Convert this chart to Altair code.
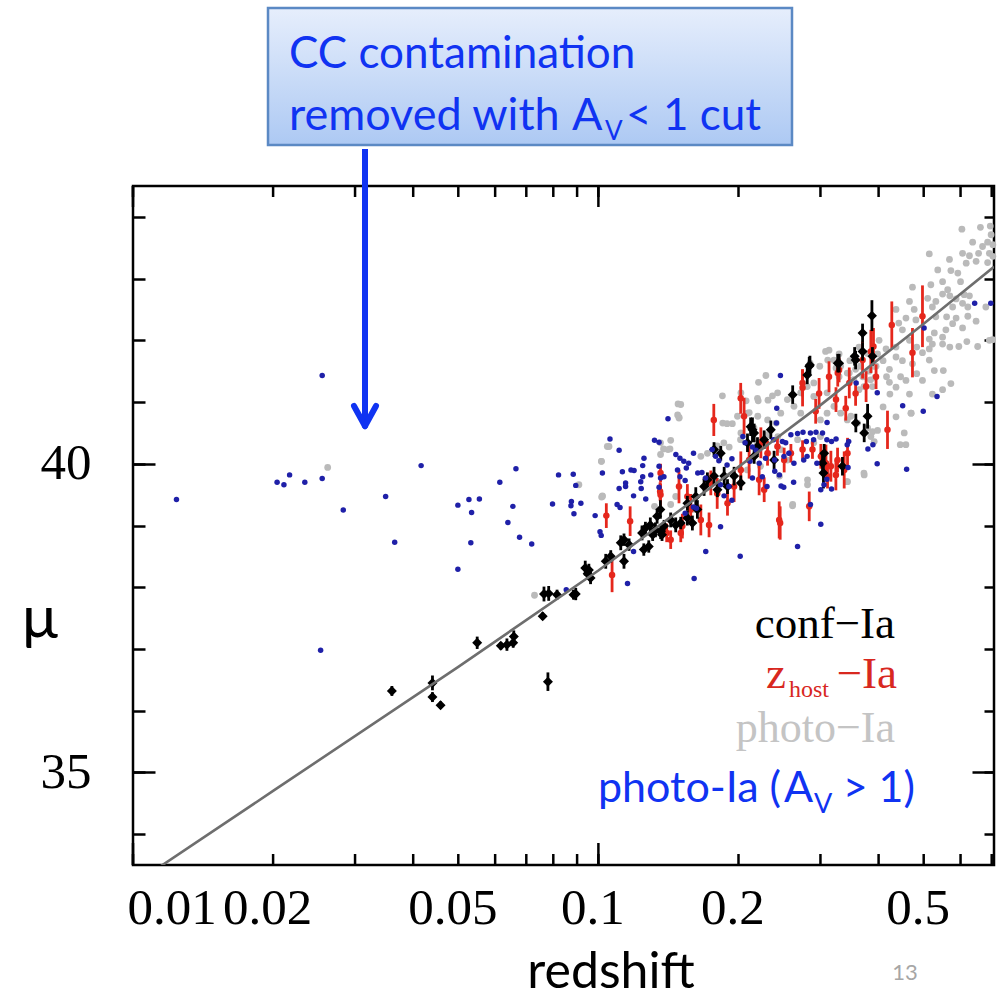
import altair as alt
import pandas as pd

# ---------------------------------------------------------------- data
# photometric Ia candidates (grey), (redshift, distance modulus)
gray_points = [
    (0.604, 43.80), (0.662, 43.83), (0.695, 43.85), (0.698, 43.71), (0.686, 43.59),
    (0.704, 43.55), (0.669, 43.52), (0.637, 43.59), (0.656, 43.41), (0.692, 43.41),
    (0.627, 43.37), (0.648, 43.28), (0.686, 43.26), (0.704, 43.36), (0.606, 43.41),
    (0.617, 43.25), (0.568, 43.31), (0.536, 43.14), (0.514, 43.40), (0.572, 43.13),
    (0.592, 43.09), (0.549, 42.95), (0.600, 42.95), (0.518, 42.90), (0.473, 42.86),
    (0.563, 42.82), (0.549, 42.75), (0.569, 42.72), (0.587, 42.67), (0.611, 42.74),
    (0.627, 42.72), (0.680, 42.54), (0.622, 42.54), (0.606, 42.60), (0.577, 42.54),
    (0.531, 42.63), (0.510, 42.68), (0.466, 42.63), (0.436, 42.50), (0.477, 42.50),
    (0.458, 42.36), (0.442, 42.28), (0.450, 42.17), (0.481, 42.33), (0.522, 42.54),
    (0.531, 42.38), (0.560, 42.38), (0.587, 42.36), (0.622, 42.39), (0.648, 42.31),
    (0.606, 42.20), (0.577, 42.27), (0.558, 42.17), (0.549, 42.05), (0.527, 42.12),
    (0.514, 42.02), (0.522, 41.94), (0.549, 41.94), (0.569, 41.89), (0.595, 41.90),
    (0.619, 41.98), (0.653, 41.90), (0.692, 42.00), (0.703, 42.01), (0.514, 41.86),
    (0.497, 41.80), (0.483, 41.89), (0.466, 42.00), (0.436, 41.89), (0.436, 41.73),
    (0.450, 41.67), (0.473, 41.62), (0.483, 41.46), (0.514, 41.68), (0.527, 41.51),
    (0.497, 41.35), (0.551, 41.51), (0.572, 41.30), (0.549, 41.20), (0.522, 41.13),
    (0.466, 41.13), (0.436, 41.24), (0.422, 41.32), (0.446, 41.41), (0.422, 41.53),
    (0.409, 41.67), (0.415, 41.86), (0.401, 42.00), (0.398, 41.78), (0.393, 41.40),
    (0.416, 41.41), (0.458, 41.35), (0.470, 40.82), (0.436, 40.76), (0.409, 40.92),
    (0.423, 41.13), (0.313, 41.84), (0.329, 41.78), (0.347, 41.67), (0.363, 41.89),
    (0.311, 41.68), (0.299, 41.58), (0.285, 41.63), (0.324, 41.55), (0.346, 41.47),
    (0.357, 41.53), (0.329, 41.41), (0.352, 41.36), (0.370, 41.41), (0.382, 41.50),
    (0.395, 41.58), (0.388, 41.25), (0.363, 41.20),
    (0.149, 40.74), (0.185, 40.66), (0.189, 40.65), (0.194, 40.65), (0.209, 40.82),
    (0.220, 40.77), (0.231, 40.71), (0.241, 40.66), (0.216, 40.58), (0.1045, 40.28),
    (0.1015, 40.04), (0.143, 40.38), (0.138, 40.24), (0.1425, 40.24), (0.136, 40.15),
    (0.166, 40.12), (0.1715, 40.17), (0.180, 40.29), (0.186, 40.34), (0.191, 40.27),
    (0.202, 40.39), (0.199, 40.77), (0.1016, 39.46), (0.0908, 39.66), (0.132, 39.31),
    (0.143, 39.34), (0.1466, 39.47), (0.1606, 39.26), (0.209, 39.90), (0.223, 39.96),
    (0.235, 40.55), (0.243, 40.44), (0.245, 39.80),
    (0.229, 41.43), (0.2208, 41.32), (0.1483, 40.97), (0.1847, 41.10), (0.2077, 41.02),
    (0.2205, 41.02), (0.2366, 41.10), (0.1491, 40.75), (0.2109, 40.83),
    (0.4694, 40.82), (0.3788, 40.58), (0.3882, 40.52), (0.3980, 40.54), (0.3850, 40.44),
    (0.3914, 40.36), (0.4541, 40.50), (0.4578, 40.31), (0.4452, 40.31), (0.3725, 39.82),
    (0.2814, 39.74), (0.2814, 39.66), (0.2613, 39.32), (0.3430, 39.71), (0.3604, 40.66),
    (0.3487, 40.77),
    (0.1503, 40.96), (0.148, 40.79), (0.0262, 39.94), (0.0729, 37.87), (0.102, 39.48),
    (0.2615, 39.34),
    (0.2024, 41.15), (0.2197, 41.06), (0.2314, 41.03), (0.2427, 41.15), (0.2547, 41.04),
    (0.2721, 41.15), (0.2810, 41.25), (0.2903, 41.31), (0.3077, 41.82), (0.3207, 41.68),
    (0.3315, 41.58), (0.3426, 41.47), (0.3538, 41.68), (0.3656, 41.58), (0.3780, 41.79),
    (0.2197, 40.34), (0.2314, 40.17), (0.2465, 40.23), (0.2679, 40.39), (0.2903, 40.34),
    (0.3000, 40.71), (0.3100, 40.82), (0.3207, 40.93), (0.3315, 40.82), (0.3426, 40.71),
    (0.2721, 40.82), (0.2632, 40.93), (0.2903, 41.09), (0.3100, 41.15), (0.3538, 41.36),
    (0.3720, 41.25), (0.3845, 41.36), (0.3900, 41.58), (0.3720, 39.85), (0.3415, 39.71),
    (0.3000, 40.44), (0.2314, 40.47), (0.2547, 40.06), (0.2024, 40.50), (0.2465, 40.82),
    (0.1360, 40.34), (0.1411, 40.23), (0.1054, 40.28), (0.1015, 40.04), (0.1020, 39.47),
]

# host-galaxy redshift Ia (red): (redshift, mu, mu error)
zhost_points = [
    (0.497, 42.39, 0.50), (0.473, 41.80, 0.40), (0.427, 42.25, 0.38), (0.390, 41.90, 0.30),
    (0.2746, 41.23, 0.30), (0.298, 41.14, 0.25), (0.313, 41.41, 0.25), (0.329, 41.52, 0.20),
    (0.346, 41.31, 0.25), (0.3695, 41.68, 0.30), (0.385, 41.82, 0.35), (0.357, 41.14, 0.20),
    (0.324, 41.04, 0.20), (0.376, 41.25, 0.25), (0.395, 41.41, 0.20), (0.340, 40.90, 0.20),
    (0.293, 40.85, 0.20), (0.3268, 41.47, 0.22), (0.2745, 41.31, 0.22), (0.2022, 41.06, 0.25),
    (0.177, 40.71, 0.26), (0.104, 39.16, 0.20), (0.117, 39.07, 0.24), (0.107, 38.20, 0.28),
    (0.136, 39.50, 0.18), (0.143, 38.77, 0.15), (0.149, 39.63, 0.27), (0.1553, 39.47, 0.20),
    (0.1579, 39.26, 0.25), (0.1515, 38.99, 0.20), (0.166, 39.09, 0.25), (0.1729, 39.01, 0.20),
    (0.180, 39.52, 0.25), (0.1744, 39.69, 0.20), (0.1894, 39.36, 0.20), (0.1957, 39.63, 0.25),
    (0.2023, 39.90, 0.30), (0.2108, 40.06, 0.30), (0.2215, 39.74, 0.25), (0.2271, 39.58, 0.20),
    (0.2056, 40.77, 0.30), (0.2234, 40.34, 0.25), (0.2309, 40.17, 0.20), (0.2446, 39.09, 0.30),
    (0.136, 39.85, 0.15), (0.2458, 39.04, 0.27), (0.2838, 39.31, 0.24), (0.418, 40.55, 0.31),
    (0.343, 40.17, 0.25), (0.3265, 40.06, 0.20), (0.3159, 39.96, 0.25), (0.3083, 40.01, 0.30),
    (0.3006, 40.12, 0.20), (0.2884, 40.23, 0.15), (0.2746, 40.23, 0.15), (0.2592, 40.17, 0.15),
    (0.2507, 40.06, 0.20), (0.3374, 39.90, 0.30), (0.3238, 39.82, 0.25), (0.3107, 39.80, 0.20),
    (0.2425, 40.28, 0.15), (0.1402, 38.88, 0.15), (0.1503, 38.88, 0.15), (0.1357, 39.55, 0.15),
]

# spectroscopically confirmed Ia (black): (redshift, mu, mu error)
conf_points = [
    (0.0360, 36.32, 0.08), (0.0440, 36.45, 0.12), (0.0440, 36.22, 0.08), (0.0458, 36.09, 0.06),
    (0.0549, 37.10, 0.10), (0.0617, 37.05, 0.06), (0.0636, 37.07, 0.10), (0.0656, 37.10, 0.08),
    (0.0658, 37.20, 0.10), (0.0779, 36.47, 0.15), (0.0759, 37.53, 0.06), (0.0764, 37.89, 0.12),
    (0.0782, 37.90, 0.12), (0.0815, 37.88, 0.08), (0.0884, 37.88, 0.08), (0.0894, 37.89, 0.10),
    (0.0937, 38.31, 0.12), (0.0948, 38.22, 0.10),
    (0.0954, 38.28, 0.10), (0.0962, 38.15, 0.10), (0.1037, 38.42, 0.12), (0.1063, 38.50, 0.10),
    (0.1117, 38.72, 0.12), (0.1135, 38.77, 0.10), (0.1164, 38.69, 0.10), (0.1135, 38.42, 0.12),
    (0.1241, 38.88, 0.12), (0.1262, 38.96, 0.10), (0.1293, 39.01, 0.12), (0.1308, 38.85, 0.10),
    (0.1326, 38.93, 0.12), (0.1370, 38.85, 0.10), (0.1361, 38.90, 0.12), (0.1384, 38.99, 0.10),
    (0.1337, 39.15, 0.12), (0.1359, 39.26, 0.15), (0.1252, 38.61, 0.10), (0.1283, 38.66, 0.10),
    (0.1430, 39.09, 0.12), (0.1466, 39.01, 0.12), (0.1503, 39.04, 0.10), (0.1553, 39.12, 0.12),
    (0.1592, 39.04, 0.12), (0.1632, 39.26, 0.15), (0.1553, 39.36, 0.12), (0.1619, 39.47, 0.15),
    (0.1687, 39.63, 0.15), (0.1715, 39.74, 0.12), (0.1772, 39.80, 0.15), (0.1802, 39.58, 0.12),
    (0.1863, 39.80, 0.15), (0.1894, 39.63, 0.12), (0.1957, 39.80, 0.15), (0.2023, 39.69, 0.12),
    (0.2091, 40.34, 0.15), (0.2143, 40.55, 0.20), (0.2197, 40.28, 0.15), (0.2271, 40.39, 0.15),
    (0.2385, 40.06, 0.15), (0.2161, 40.12, 0.12), (0.2347, 40.55, 0.15), (0.3056, 40.17, 0.15),
    (0.3031, 40.01, 0.15), (0.3045, 39.85, 0.25), (0.3345, 39.96, 0.15), (0.3725, 40.50, 0.15),
    (0.3788, 40.77, 0.20), (0.3574, 40.66, 0.15), (0.387, 42.40, 0.25), (0.3695, 42.12, 0.15),
    (0.3695, 41.82, 0.15), (0.388, 41.74, 0.15), (0.2838, 41.58, 0.15), (0.329, 41.63, 0.15),
    (0.281, 41.44, 0.15), (0.357, 41.68, 0.15), (0.2615, 41.12, 0.15), (0.3553, 41.74, 0.15),
    (0.3268, 41.63, 0.15), (0.2848, 41.60, 0.15), (0.2161, 40.50, 0.15), (0.2124, 40.60, 0.15),
    (0.1832, 40.17, 0.12), (0.1772, 40.23, 0.12),
]

# photometric candidates with A_V > 1 (blue)
highav_points = [
    (0.0124, 39.42), (0.0255, 41.43), (0.0204, 39.70), (0.0211, 39.66), (0.0217, 39.82),
    (0.0234, 39.70), (0.0255, 39.76), (0.0253, 36.98), (0.0283, 39.25), (0.0349, 39.47),
    (0.0365, 38.73), (0.0416, 39.97), (0.0499, 39.33), (0.0499, 38.29), (0.0527, 39.42),
    (0.0555, 39.43), (0.0534, 39.21), (0.0532, 38.72), (0.0614, 39.70), (0.0665, 39.92),
    (0.0655, 39.31), (0.0639, 39.05), (0.0677, 38.81), (0.0719, 38.70), (0.0797, 39.35),
    (0.0821, 39.82), (0.0883, 39.83), (0.0875, 39.39), (0.0873, 39.32), (0.0894, 39.65),
    (0.0917, 39.36), (0.0886, 39.19), (0.0984, 39.16), (0.0853, 37.96),
    (0.1411, 40.73), (0.1059, 40.40), (0.1108, 40.22), (0.132, 40.38), (0.135, 40.35),
    (0.1020, 39.85), (0.1126, 39.87), (0.1175, 39.90), (0.1193, 39.89), (0.1253, 40.09),
    (0.1245, 39.97), (0.1296, 39.82), (0.1245, 39.79), (0.1233, 39.71), (0.1144, 39.69),
    (0.1144, 39.63), (0.1108, 39.60), (0.135, 39.96), (0.136, 39.77), (0.1383, 39.79),
    (0.135, 39.62), (0.1236, 39.60), (0.1190, 39.48), (0.1264, 39.43), (0.1097, 39.34),
    (0.1113, 39.29), (0.1008, 38.90), (0.1014, 38.84), (0.1190, 38.58), (0.1155, 38.06),
    (0.1467, 40.15), (0.1497, 40.09), (0.1526, 40.04), (0.1563, 40.01), (0.1545, 39.93),
    (0.1601, 40.17), (0.1635, 39.85), (0.1669, 39.86), (0.1700, 39.77), (0.1497, 39.79),
    (0.1479, 39.90), (0.1536, 39.73), (0.1624, 39.28), (0.1600, 39.30), (0.1536, 39.20),
    (0.1756, 40.23), (0.1786, 40.12), (0.1815, 40.05), (0.1890, 39.98), (0.1936, 40.08),
    (0.1830, 39.66), (0.1907, 39.63), (0.1862, 39.48), (0.1936, 39.41), (0.1830, 38.98),
    (0.1701, 38.58), (0.2017, 38.50), (0.1606, 38.14), (0.2044, 40.44), (0.2066, 40.34),
    (0.2143, 40.27), (0.2182, 40.22), (0.2117, 40.04), (0.2216, 40.01), (0.2286, 40.09),
    (0.2143, 39.77), (0.2250, 39.79), (0.2303, 39.63), (0.2413, 40.66), (0.2378, 40.39),
    (0.4989, 40.85), (0.2592, 40.47), (0.2679, 40.49), (0.2752, 40.51), (0.2855, 40.50),
    (0.2935, 40.51), (0.2526, 40.34), (0.2485, 40.36), (0.2798, 40.36), (0.2900, 40.39),
    (0.3031, 40.50), (0.3097, 40.39), (0.3169, 40.36), (0.3241, 40.40), (0.310, 40.67),
    (0.3450, 40.36), (0.3425, 40.31), (0.3794, 40.24), (0.3889, 40.31), (0.3972, 40.00),
    (0.4595, 39.91), (0.2391, 40.06), (0.2504, 40.12), (0.2566, 40.17), (0.2631, 40.01),
    (0.2762, 40.06), (0.2808, 40.12), (0.2948, 40.01), (0.2393, 39.88), (0.2448, 39.82),
    (0.2469, 39.64), (0.2502, 39.62), (0.2627, 39.70), (0.3005, 39.58), (0.3053, 39.66),
    (0.3169, 39.59), (0.3097, 39.75), (0.3439, 39.94), (0.2855, 39.34), (0.3005, 39.02),
    (0.2679, 38.66), (0.6434, 42.60), (0.6968, 42.60), (0.5341, 41.09), (0.4506, 40.94),
    (0.2461, 41.43), (0.3974, 41.15), (0.358, 41.31), (0.2417, 40.90), (0.501, 42.20),
]

# reference cosmology curve
model_z = [0.01, 0.02, 0.05, 0.1, 0.2, 0.3, 0.5, 0.708]
model_mu = [33.18, 34.70, 36.71, 38.27, 39.95, 40.95, 42.27, 43.19]

x_tick_values = [0.01, 0.02, 0.03, 0.04, 0.05, 0.06, 0.07, 0.08, 0.09,
                 0.1, 0.2, 0.3, 0.4, 0.5, 0.6, 0.7]
x_major = [0.01, 0.1]
x_label_values = [0.01, 0.02, 0.05, 0.1, 0.2, 0.5]
y_tick_values = list(range(34, 45))
y_major = [35, 40]

# ---------------------------------------------------------------- frames
gray_df = pd.DataFrame(gray_points, columns=["z", "mu"])
blue_df = pd.DataFrame(highav_points, columns=["z", "mu"])
red_df = pd.DataFrame(zhost_points, columns=["z", "mu", "err"])
black_df = pd.DataFrame(conf_points, columns=["z", "mu", "err"])
for df in (red_df, black_df):
    df["lo"] = df["mu"] - df["err"]
    df["hi"] = df["mu"] + df["err"]
model_df = pd.DataFrame({"z": model_z, "mu": model_mu})
xtick_df = pd.DataFrame({"z": x_tick_values})
xmajor_df = pd.DataFrame({"z": x_major})
one = pd.DataFrame({"k": [0]})

# ---------------------------------------------------------------- styling
W, H = 861, 679
SERIF = "Liberation Serif"
SANS = "Lato"
BLUE_TXT = "#1033f2"
C_GRAY = "#bababa"
C_RED = "#e5271c"
C_BLUE = "#1f20a8"

x_scale = alt.Scale(type="log", domain=[0.01, 0.708], nice=False)
y_scale = alt.Scale(domain=[33.5, 44.5], nice=False, zero=False)


def tick_axis(orient, values, size, offset):
    return alt.Axis(orient=orient, offset=offset, values=values, labels=False,
                    ticks=True, tickSize=size, tickWidth=2.5, tickColor="black",
                    domain=False, grid=False, title=None)


x_label_axis = alt.Axis(orient="bottom", values=x_label_values, format="~g",
                        ticks=False, tickSize=0, domain=False, grid=False,
                        labelFont=SERIF, labelFontSize=51, labelColor="black",
                        labelPadding=58, labelBaseline="alphabetic",
                        labelFlush=True, labelOffset=-6, labelOverlap=False,
                        title=None)
y_label_axis = alt.Axis(orient="left", values=y_major, ticks=False, tickSize=0,
                        domain=False, grid=False, labelFont=SERIF,
                        labelFontSize=51, labelColor="black", labelPadding=42,
                        labelAlign="right", labelBaseline="middle", title=None)


def xy(xaxis, yaxis, y="mu"):
    return dict(
        x=alt.X("z:Q", scale=x_scale, axis=xaxis),
        y=alt.Y(f"{y}:Q", scale=y_scale, axis=yaxis),
    )


# inward ticks along the bottom and top frame edges
def xticks(df, y_from, y_to):
    return alt.Chart(df).mark_rule(color="black", strokeWidth=2.5).encode(
        x=alt.X("z:Q", scale=x_scale, axis=None),
        y=alt.value(y_from), y2=alt.value(y_to))


frame_ticks = [
    xticks(xtick_df, H, H - 11),
    xticks(xtick_df, 0, 11),
    xticks(xmajor_df, H, H - 22),
    xticks(xmajor_df, 0, 21),
]

gray_layer = alt.Chart(gray_df).mark_circle(size=46, color=C_GRAY, opacity=1).encode(
    **xy(x_label_axis, y_label_axis))

red_bars = alt.Chart(red_df).mark_rule(color=C_RED, strokeWidth=2.8).encode(
    **xy(None, tick_axis("right", y_tick_values, 12, -W), y="lo"),
    y2="hi:Q")
red_dots = alt.Chart(red_df).mark_circle(size=42, color=C_RED, opacity=1).encode(
    **xy(None, tick_axis("left", y_tick_values, 10, -W)))

black_bars = alt.Chart(black_df).mark_rule(color="black", strokeWidth=2.8).encode(
    **xy(None, tick_axis("right", y_major, 22, -W), y="lo"),
    y2="hi:Q")
black_dots = alt.Chart(black_df).mark_point(shape="diamond", filled=True, size=100,
                                            color="black", opacity=1).encode(
    **xy(None, tick_axis("left", y_major, 22, -W)))

blue_layer = alt.Chart(blue_df).mark_circle(size=30, color=C_BLUE, opacity=1).encode(
    **xy(None, None))

model_line = alt.Chart(model_df).mark_line(color="#6e6e6e", strokeWidth=2.6,
                                           clip=True).encode(**xy(None, None))


def label(text, x, y, size, color, font, align="left"):
    return alt.Chart(one).mark_text(text=text, align=align, baseline="alphabetic",
                                    font=font, fontSize=size, color=color).encode(
        x=alt.value(x), y=alt.value(y))


# in-plot legend
legend = [
    label("conf\u2212Ia", 762, 452, 45, "black", SERIF, "right"),
    label("z", 633, 502, 45, "#d8281f", SERIF),
    label("host", 656, 511, 24, "#d8281f", SERIF),
    label("\u2212Ia", 764, 502, 45, "#d8281f", SERIF, "right"),
    label("photo\u2212Ia", 762, 556, 44, "#c4c4c4", SERIF, "right"),
    label("photo-Ia (", 465, 616, 43, BLUE_TXT, SANS),
    label("A", 651, 616, 43, BLUE_TXT, SANS),
    label("V", 681, 627, 27, BLUE_TXT, SANS),
    label("> 1)", 782, 616, 43, BLUE_TXT, SANS, "right"),
]

# call-out box with arrow
box = alt.Chart(one).mark_rect(
    fill=alt.Gradient(gradient="linear", x1=0, x2=0, y1=0, y2=1,
                      stops=[alt.GradientStop(color="#e6eefc", offset=0),
                             alt.GradientStop(color="#adc9f3", offset=1)]),
    stroke="#5b89c4", strokeWidth=2.5).encode(
    x=alt.value(135), x2=alt.value(659), y=alt.value(-178), y2=alt.value(-41))
callout = [
    box,
    label("CC contamination", 156, -118, 44, BLUE_TXT, SANS),
    label("removed with", 156, -56, 45, BLUE_TXT, SANS),
    label("A", 439, -56, 45, BLUE_TXT, SANS),
    label("V", 472, -46, 26, BLUE_TXT, SANS),
    label("< 1 cut", 628, -56, 44, BLUE_TXT, SANS, "right"),
    alt.Chart(one).mark_rule(color=BLUE_TXT, strokeWidth=6).encode(
        x=alt.value(232), y=alt.value(-37), y2=alt.value(238)),
    alt.Chart(one).mark_rule(color=BLUE_TXT, strokeWidth=6, strokeCap="round").encode(
        x=alt.value(221), x2=alt.value(232), y=alt.value(220), y2=alt.value(240)),
    alt.Chart(one).mark_rule(color=BLUE_TXT, strokeWidth=6, strokeCap="round").encode(
        x=alt.value(243), x2=alt.value(232), y=alt.value(220), y2=alt.value(240)),
]

titles = [
    label("\u03bc", -111, 452, 60, "black", SANS),
    label("redshift", 478, 802, 50, "black", SANS, "center"),
    label("13", 772, 794, 22, "#a6a6a6", SANS, "center"),
]

chart = alt.layer(
    gray_layer, red_bars, red_dots, black_bars, black_dots, blue_layer, model_line,
    *frame_ticks, *legend, *callout, *titles,
).resolve_axis(
    x="independent", y="independent"
).properties(
    width=W, height=H,
    autosize=alt.AutoSizeParams(type="none"),
    padding={"left": 133, "top": 186, "right": 10, "bottom": 134},
    background="white",
).configure_view(
    stroke="black", strokeWidth=2.5
)

chart.save("out.html", embed_options={"renderer": "svg", "actions": False})
